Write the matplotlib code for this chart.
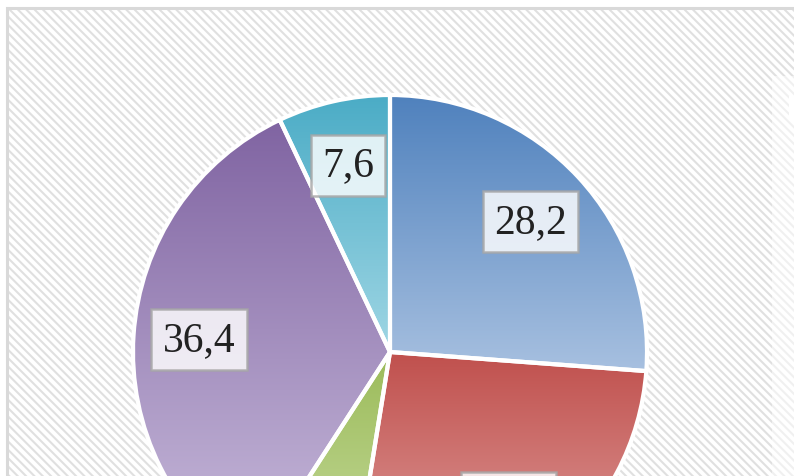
import numpy as np
import matplotlib
matplotlib.use("Agg")
import matplotlib.pyplot as plt
from matplotlib.colors import to_rgb
from matplotlib.patches import Rectangle

# data (clockwise from 12 o'clock)
values = [28.2, 28.4, 7.1, 36.4, 7.6]
labels = ["28,2", "28,4", "7,1", "36,4", "7,6"]
top_colors = ["#4f81bd", "#c0504d", "#9bbb59", "#8064a2", "#4bacc6"]
bottom_colors = ["#a7c0e0", "#e3a9a7", "#cde0a8", "#c9bcdc", "#9fd6e4"]

plt.rcParams['hatch.linewidth'] = 1.5

W, H = 794, 477
fig = plt.figure(figsize=(W / 100, H / 100), dpi=100)
fig.patch.set_facecolor("white")

# hatched chart background
bg = Rectangle((7 / W, -0.1), 1.2, (H - 9) / H + 0.1, transform=fig.transFigure,
               facecolor="white", edgecolor="#e0e0e0", linewidth=0,
               hatch="\\\\\\\\", zorder=-10)
fig.patches.append(bg)
border = Rectangle((7 / W, -0.1), 1.2, (H - 9) / H + 0.1, transform=fig.transFigure,
                   facecolor="none", edgecolor="#d9d9d9", linewidth=2.2, zorder=-9)
fig.patches.append(border)
# legend area (cut off at the right)
leg = Rectangle((772 / W, -0.1), 0.2, (H - 77) / H + 0.1, transform=fig.transFigure,
                facecolor="white", edgecolor="none", alpha=0.55, zorder=-8)
fig.patches.append(leg)
mark = Rectangle((789 / W, (H - 122) / H), 0.05, 25 / H, transform=fig.transFigure,
                 facecolor="white", edgecolor="none", zorder=-7)
fig.patches.append(mark)

# pie axes: centre (390, 353) px, radius 257 px
cx, cy, r = 390, H - 353, 257
ax = fig.add_axes([(cx - r) / W, (cy - r) / H, 2 * r / W, 2 * r / H])
ax.set_axis_off()

wedges, texts = ax.pie(values, labels=labels, startangle=90, counterclock=False,
                       labeldistance=0.745, radius=1,
                       wedgeprops=dict(edgecolor="white", linewidth=3))

# vertical gradient fill clipped to each wedge
for w, c0, c1 in zip(wedges, top_colors, bottom_colors):
    th = np.radians(np.linspace(w.theta1, w.theta2, 100))
    ys = np.concatenate([np.sin(th), [0]])
    y0, y1 = ys.min(), ys.max()
    t = np.linspace(0, 1, 256)[:, None]
    grad = (1 - t) * np.array(to_rgb(c0)) + t * np.array(to_rgb(c1))
    im = ax.imshow(grad[:, None, :], extent=(-1, 1, y0, y1), origin="upper",
                   aspect="auto", zorder=0.5, interpolation="bilinear")
    im.set_clip_path(w)
    w.set_facecolor("none")
    w.set_zorder(1)

for t in texts:
    t.set_ha("center")
    t.set_va("center")
    t.set_fontsize(30)
    t.set_family("Liberation Serif")
    t.set_color("#222222")
    t.set_zorder(3)
    t.set_bbox(dict(boxstyle="square,pad=0.27", facecolor="white", alpha=0.82,
                    edgecolor="#a6a6a6", linewidth=1.8))

ax.set_xlim(-1, 1)
ax.set_ylim(-1, 1)
ax.set_aspect("auto")

fig.savefig("out.png", dpi=100)
